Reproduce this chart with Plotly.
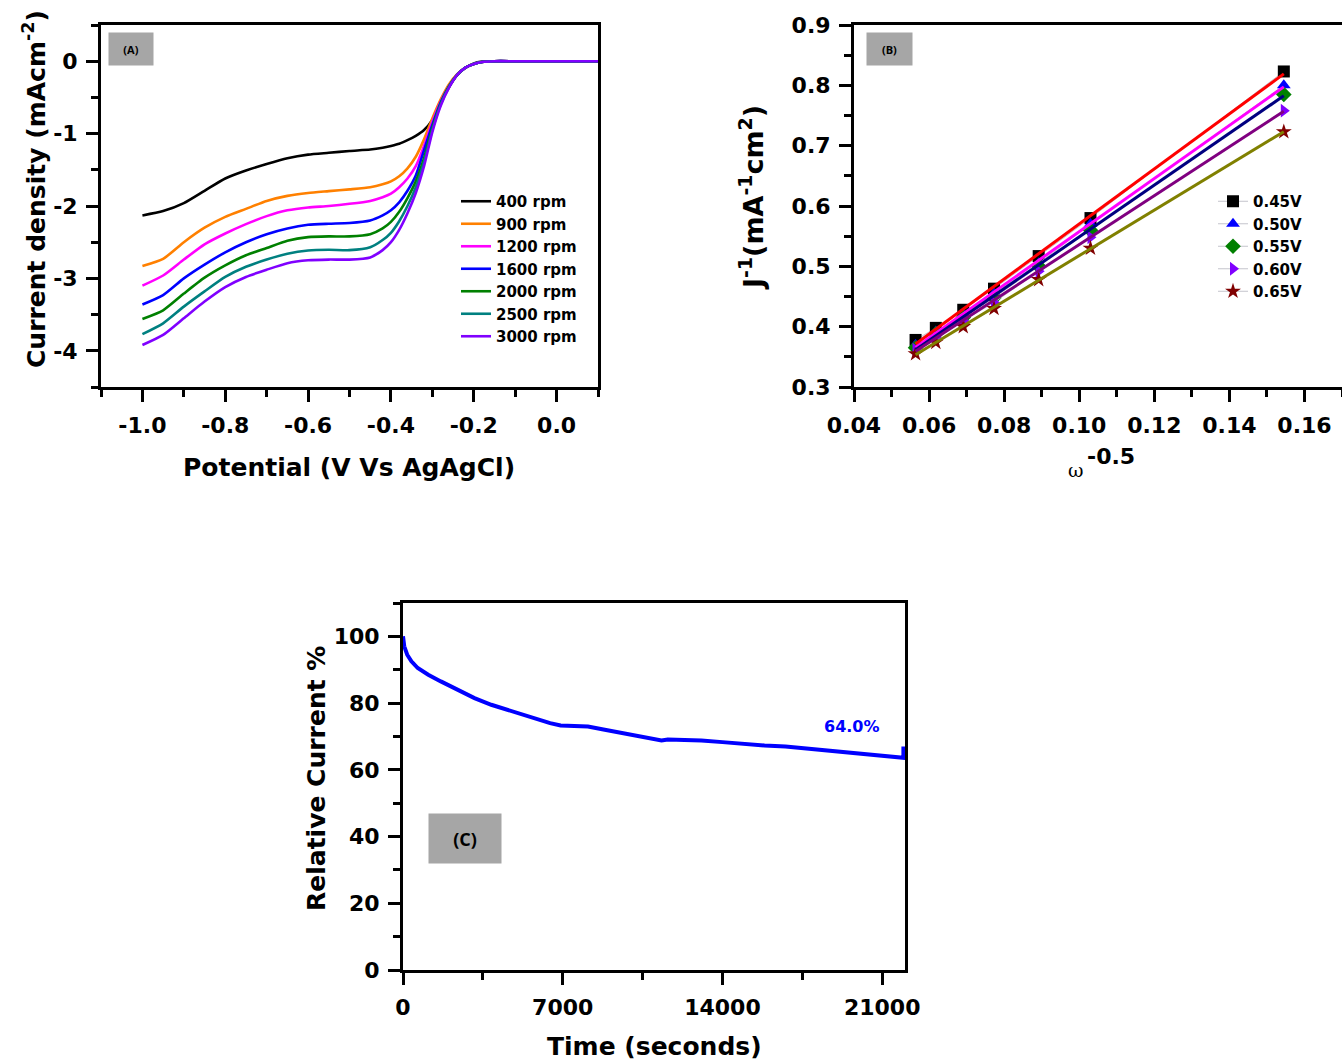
import numpy as np
import plotly.graph_objects as go

W, H = 1342, 1062
FONT = "DejaVu Sans"

# ---------------- Panel A data: LSV curves ----------------
potential = [-1.0, -0.95, -0.9, -0.85, -0.8, -0.75, -0.7, -0.65, -0.6, -0.55, -0.5, -0.45,
             -0.42, -0.4, -0.38, -0.36, -0.34, -0.32, -0.3, -0.28, -0.26, -0.24, -0.22,
             -0.2, -0.18, -0.15, -0.1, 0.0, 0.1]
rpm_labels = ["400 rpm", "900 rpm", "1200 rpm", "1600 rpm", "2000 rpm", "2500 rpm", "3000 rpm"]
j_400 = [-2.13, -2.07, -1.96, -1.79, -1.62, -1.51, -1.42, -1.34, -1.29, -1.265, -1.24, -1.22,
         -1.195, -1.17, -1.14, -1.09, -1.03, -0.95, -0.81, -0.57, -0.36, -0.19, -0.09,
         -0.03, -0.005, 0, 0, 0, 0]
j_900 = [-2.83, -2.73, -2.50, -2.30, -2.15, -2.04, -1.93, -1.86, -1.82, -1.795, -1.77, -1.74,
         -1.70, -1.66, -1.59, -1.48, -1.32, -1.08, -0.79, -0.53, -0.32, -0.18, -0.09,
         -0.04, -0.01, 0, 0, 0, 0]
j_1200 = [-3.10, -2.96, -2.74, -2.53, -2.38, -2.25, -2.14, -2.06, -2.02, -2.00, -1.97, -1.93,
          -1.88, -1.83, -1.74, -1.62, -1.45, -1.17, -0.84, -0.56, -0.35, -0.19, -0.09,
          -0.04, -0.01, 0, 0, 0, 0]
j_1600 = [-3.36, -3.23, -3.00, -2.81, -2.64, -2.50, -2.39, -2.31, -2.26, -2.245, -2.235, -2.20,
          -2.13, -2.06, -1.95, -1.79, -1.58, -1.23, -0.88, -0.57, -0.35, -0.19, -0.09,
          -0.04, -0.01, 0, 0, 0, 0]
j_2000 = [-3.56, -3.44, -3.21, -2.99, -2.82, -2.68, -2.58, -2.48, -2.43, -2.42, -2.42, -2.39,
          -2.31, -2.22, -2.08, -1.89, -1.66, -1.34, -0.92, -0.59, -0.35, -0.19, -0.09,
          -0.04, -0.01, 0, 0, 0, 0]
j_2500 = [-3.77, -3.62, -3.39, -3.18, -2.98, -2.84, -2.74, -2.66, -2.615, -2.605, -2.61, -2.57,
          -2.47, -2.37, -2.21, -2.00, -1.74, -1.39, -0.95, -0.60, -0.36, -0.19, -0.09,
          -0.04, -0.01, 0, 0, 0, 0]
j_3000 = [-3.92, -3.78, -3.55, -3.32, -3.12, -2.98, -2.88, -2.79, -2.75, -2.74, -2.74, -2.71,
          -2.61, -2.50, -2.33, -2.10, -1.82, -1.45, -0.98, -0.62, -0.37, -0.19, -0.09,
          -0.04, -0.01, 0, 0, 0, 0]
rpm_colors = ["#000000", "#FF8000", "#FF00FF", "#0000FF", "#008000", "#008080", "#8000FF"]
a_xticks = [-1.0, -0.8, -0.6, -0.4, -0.2, 0.0]
a_xticktext = ["-1.0", "-0.8", "-0.6", "-0.4", "-0.2", "0.0"]
a_yticks = [0, -1, -2, -3, -4]
a_yticktext = ["0", "-1", "-2", "-3", "-4"]

# ---------------- Panel B data: Koutecky-Levich ----------------
omega_inv_sqrt = [0.0564, 0.0618, 0.0691, 0.0773, 0.0892, 0.1030, 0.1545]
kl_labels = ["0.45V", "0.50V", "0.55V", "0.60V", "0.65V"]
kl_045 = [0.378, 0.398, 0.428, 0.463, 0.517, 0.580, 0.823]
kl_050 = [0.370, 0.392, 0.420, 0.455, 0.505, 0.570, 0.800]
kl_055 = [0.365, 0.388, 0.415, 0.448, 0.500, 0.560, 0.785]
kl_060 = [0.362, 0.383, 0.410, 0.440, 0.492, 0.548, 0.758]
kl_065 = [0.355, 0.374, 0.400, 0.430, 0.478, 0.530, 0.723]
kl_marker_colors = ["#000000", "#0000FF", "#008000", "#8000FF", "#800000"]
kl_symbols = ["square", "triangle-up", "diamond", "triangle-right", "star"]
kl_fit_colors = ["#FF0000", "#FF00FF", "#000080", "#800080", "#808000"]
b_xticks = [0.04, 0.06, 0.08, 0.10, 0.12, 0.14, 0.16]
b_xticktext = ["0.04", "0.06", "0.08", "0.10", "0.12", "0.14", "0.16"]
b_yticks = [0.3, 0.4, 0.5, 0.6, 0.7, 0.8, 0.9]
b_yticktext = ["0.3", "0.4", "0.5", "0.6", "0.7", "0.8", "0.9"]

# ---------------- Panel C data: chronoamperometry ----------------
time_s = [0, 55, 184, 368, 645, 1105, 1658, 2395, 3132, 3868, 4789, 5711, 6447, 6908, 7553,
          8105, 8842, 9763, 10684, 11329, 11605, 12342, 13079, 14000, 14921, 15842, 16763,
          17684, 18605, 19526, 20447, 21368, 21884, 21930, 21930]
rel_current = [100, 97, 94.5, 92.5, 90.5, 88.5, 86.5, 84, 81.5, 79.5, 77.5, 75.5, 74, 73.3, 73.2,
               73, 72, 70.8, 69.7, 68.8, 69.1, 69, 68.8, 68.3, 67.7, 67.3, 67, 66.4, 65.8,
               65.2, 64.7, 64.2, 63.6, 63.6, 67]
c_xticks = [0, 7000, 14000, 21000]
c_xticktext = ["0", "7000", "14000", "21000"]
c_yticks = [0, 20, 40, 60, 80, 100]
c_yticktext = ["0", "20", "40", "60", "80", "100"]
retention_label = "64.0%"


def px(x):
    return x / W


def py(y):
    return 1 - y / H


fig = go.Figure()

# Panel A traces
a_series = [j_400, j_900, j_1200, j_1600, j_2000, j_2500, j_3000]
for lab, ys, col in zip(rpm_labels, a_series, rpm_colors):
    fig.add_trace(go.Scatter(x=potential, y=ys, mode="lines", name=lab,
                             line=dict(color=col, width=2.6, shape="spline", smoothing=0.6),
                             xaxis="x", yaxis="y", legend="legend"))

# Panel B traces
b_series = [kl_045, kl_050, kl_055, kl_060, kl_065]
for lab, ys, mc, sym in zip(kl_labels, b_series, kl_marker_colors, kl_symbols):
    fig.add_trace(go.Scatter(x=omega_inv_sqrt, y=ys, mode="lines+markers", name=lab,
                             line=dict(color="#c4c4cc", width=1),
                             marker=dict(color=mc, symbol=sym, size=12, line=dict(width=0)),
                             xaxis="x2", yaxis="y2", legend="legend2"))
for ys, fc in zip(b_series, kl_fit_colors):
    slope, icpt = np.polyfit(omega_inv_sqrt, ys, 1)
    xe = [omega_inv_sqrt[0], omega_inv_sqrt[-1]]
    fig.add_trace(go.Scatter(x=xe, y=[slope * v + icpt for v in xe], mode="lines",
                             line=dict(color=fc, width=3), showlegend=False,
                             xaxis="x2", yaxis="y2"))

# Panel C trace
fig.add_trace(go.Scatter(x=time_s, y=rel_current, mode="lines",
                         line=dict(color="#0000FF", width=4), showlegend=False,
                         xaxis="x3", yaxis="y3"))

tickfont = dict(family=FONT, size=22, color="black", weight="bold")


def axis(domain, rng, tickvals, ticktext, minor_dtick, anchor, standoff):
    return dict(domain=domain, range=rng, anchor=anchor, tickmode="array", automargin=False,
                tickvals=tickvals, ticktext=ticktext, showline=True, linewidth=3,
                linecolor="black", mirror=True, ticks="outside", ticklen=12, tickwidth=3,
                tickcolor="black", showgrid=False, zeroline=False, tickfont=tickfont,
                ticklabelstandoff=standoff,
                minor=dict(dtick=minor_dtick, ticks="outside", ticklen=7, tickwidth=3,
                           tickcolor="black", showgrid=False))


A_x = [px(101), px(598)]
A_y = [py(387), py(25)]
B_x = [px(854), 1.0]
C_x = [px(403), px(905)]
C_y = [py(970), py(603)]

xa = axis(A_x, [-1.1, 0.1], a_xticks, a_xticktext, 0.1, "y", 5)
ya = axis(A_y, [-4.5, 0.5], a_yticks, a_yticktext, 0.5, "x", 4)
xb = axis(B_x, [0.04, 0.17], b_xticks, b_xticktext, 0.01, "y2", 5)
yb = axis(A_y, [0.3, 0.9], b_yticks, b_yticktext, 0.05, "x2", 4)
xc = axis(C_x, [0, 22000], c_xticks, c_xticktext, 3500, "y3", 4)
yc = axis(C_y, [0, 110], c_yticks, c_yticktext, 10, "x3", 4)
xb["minor"]["tick0"] = 0.04
yb["minor"]["tick0"] = 0.3
ya["minor"]["tick0"] = 0
xa["minor"]["tick0"] = -1.1

titlefont = dict(family=FONT, size=25, color="black", weight="bold")
annotations = [
    dict(text="Current density (mAcm<sup>-2</sup>)", x=px(35), y=py(189), textangle=-90,
         font=titlefont),
    dict(text="Potential (V Vs AgAgCl)", x=px(349), y=py(467), font=titlefont),
    dict(text="J<sup>-1</sup>(mA<sup>-1</sup>cm<sup>2</sup>)", x=px(752), y=py(198),
         textangle=-90, font=dict(family=FONT, size=27, color="black", weight="bold")),
    dict(text="ω", x=px(1076), y=py(470),
         font=dict(family="DejaVu Serif", size=19, color="black")),
    dict(text="-0.5", x=px(1111), y=py(456),
         font=dict(family=FONT, size=22, color="black", weight="bold")),
    dict(text="Relative Current %", x=px(316), y=py(779), textangle=-90, font=titlefont),
    dict(text="Time (seconds)", x=px(654), y=py(1046), font=titlefont),
    dict(text=retention_label, x=px(852), y=py(726),
         font=dict(family=FONT, size=16, color="#0000FF", weight="bold")),
    dict(text="(A)", x=px(131), y=py(49), width=44, height=32, bgcolor="#a6a6a6",
         borderpad=0, font=dict(family="Open Sans", size=11, color="black", weight="bold")),
    dict(text="(B)", x=px(889.5), y=py(49), width=45, height=32, bgcolor="#a6a6a6",
         borderpad=0, font=dict(family="Open Sans", size=11, color="black", weight="bold")),
    dict(text="(C)", x=px(465), y=py(838.5), width=72, height=49, bgcolor="#a6a6a6",
         borderpad=0, font=dict(family="Open Sans", size=18, color="black", weight="bold")),
]
for a in annotations:
    a.update(xref="paper", yref="paper", showarrow=False, xanchor="center", yanchor="middle")

legfont = dict(family=FONT, size=15, color="black", weight="bold")
fig.update_layout(
    width=W, height=H, autosize=False,
    margin=dict(l=0, r=0, t=0, b=0, pad=0, autoexpand=False),
    paper_bgcolor="white", plot_bgcolor="white",
    xaxis=xa, yaxis=ya, xaxis2=xb, yaxis2=yb, xaxis3=xc, yaxis3=yc,
    annotations=annotations,
    legend=dict(x=px(456), y=py(185), xanchor="left", yanchor="top", font=legfont,
                bgcolor="rgba(0,0,0,0)", borderwidth=0, tracegroupgap=0),
    legend2=dict(x=px(1213), y=py(185), xanchor="left", yanchor="top", font=legfont,
                 bgcolor="rgba(0,0,0,0)", borderwidth=0, tracegroupgap=0),
    showlegend=True,
)

fig.write_html("out.html")
